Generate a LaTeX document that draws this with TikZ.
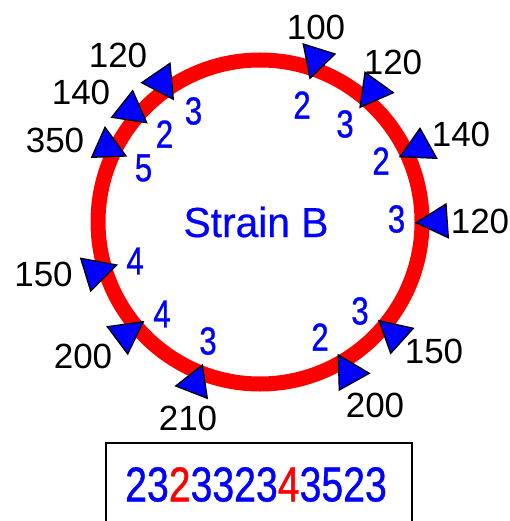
\documentclass[tikz,border=0pt]{standalone}
\usepackage{fontspec}
\setmainfont{Liberation Sans}
\newfontfamily\narrowdig[FakeStretch=0.80,FakeBold=0.8]{Liberation Sans}
\newfontfamily\strainfont[FakeStretch=0.97,FakeBold=0.5]{Liberation Sans}
\definecolor{ringred}{RGB}{255,0,0}
\definecolor{numblue}{RGB}{0,0,255}
\begin{document}
\begin{tikzpicture}[x=1pt,y=-1pt,
  tri/.style={fill=numblue,draw=black,line width=1.3pt,line join=miter},
  blk/.style={inner sep=0pt,font=\fontsize{35}{35}\selectfont,text=black},
  bl/.style={inner sep=0pt,font=\narrowdig\fontsize{39}{39}\selectfont,text=numblue}]
\useasboundingbox (0,0) rectangle (510,521);
% ring
\draw[ringred,line width=15pt] (260,222) circle [radius=162];
% triangles
\draw[tri] (141.7,82.7) -- (170,63.3) -- (173.3,99.3) -- cycle;
\draw[tri] (111.7,117.3) -- (132.7,90.7) -- (146.7,122.7) -- cycle;
\draw[tri] (91.7,157.3) -- (105,127.3) -- (126,156) -- cycle;
\draw[tri] (303.3,44) -- (335,54) -- (310,78.3) -- cycle;
\draw[tri] (365,72.3) -- (393.3,92.7) -- (360,107.3) -- cycle;
\draw[tri] (420,128.3) -- (436.7,158.3) -- (400,156.7) -- cycle;
\draw[tri] (446,204) -- (448.3,237.7) -- (416,222.7) -- cycle;
\draw[tri] (379,320.7) -- (413.3,328.3) -- (390.7,353.3) -- cycle;
\draw[tri] (338.3,355) -- (369.3,373.3) -- (339.3,390) -- cycle;
\draw[tri] (80.7,258.3) -- (116.7,265) -- (90.7,291) -- cycle;
\draw[tri] (107.3,326.7) -- (143.3,321.7) -- (127.7,354) -- cycle;
\draw[tri] (175.7,386) -- (202.3,365) -- (207.3,398.3) -- cycle;
% black labels
\node[blk] (k100) at (316,27) {100};
\node[blk] (k120a) at (393,62) {120};
\node[blk] (k140a) at (461,134) {140};
\node[blk] (k120b) at (480,221) {120};
\node[blk] (k150a) at (434,351) {150};
\node[blk] (k200a) at (375,405) {200};
\node[blk] (k210) at (188,418) {210};
\node[blk] (k200b) at (83,356) {200};
\node[blk] (k150b) at (43.5,274.5) {150};
\node[blk] (k350) at (55,140) {350};
\node[blk] (k140b) at (81,92) {140};
\node[blk] (k120c) at (118,55) {120};
% blue labels
\node[bl] (b1) at (193.5,111) {3};
\node[bl] (b2) at (164.5,134) {2};
\node[bl] (b3) at (143.5,168) {5};
\node[bl] (b4) at (302,105) {2};
\node[bl] (b5) at (345,124) {3};
\node[bl] (b6) at (381,161) {2};
\node[bl] (b7) at (396.5,219) {3};
\node[bl] (b8) at (360,311) {3};
\node[bl] (b9) at (320,337) {2};
\node[bl] (b10) at (208,341) {3};
\node[bl] (b11) at (162,314) {4};
\node[bl] (b12) at (135,261) {4};
% title
\node[inner sep=0pt,text=numblue,font=\strainfont\fontsize{42}{42}\selectfont] (title) at (256,222) {Strain B};
% box
\draw[line width=2pt] (106,443) rectangle (412,540);
\node[inner sep=0pt,font=\narrowdig\fontsize{49}{49}\selectfont] (seq) at (256,484.5)
  {\textcolor{numblue}{23}\textcolor{ringred}{2}\textcolor{numblue}{3323}\textcolor{ringred}{4}\textcolor{numblue}{3523}};
\end{tikzpicture}
\end{document}
